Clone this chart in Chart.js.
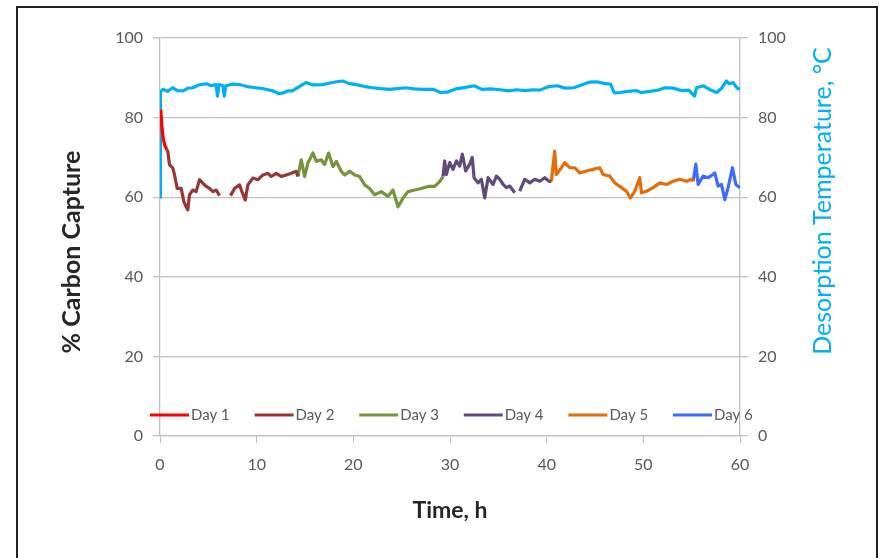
<!DOCTYPE html>
<html>
<head>
<meta charset="utf-8">
<script src="https://cdn.jsdelivr.net/npm/chart.js@4"></script>
<style>
  html, body { margin: 0; padding: 0; background: #fff; overflow: hidden; }
  #frame { position: absolute; left: 16px; top: 6px; width: 862px; height: 640px;
           border: 2px solid #222; box-sizing: border-box; }
  #chart { position: absolute; left: 0; top: 0; }
</style>
</head>
<body>
<div id="frame"></div>
<canvas id="chart" width="879" height="558"></canvas>
<script>
// [time h, % carbon capture], null = gap in the log
var day1 = [[0.08,82],[0.2,77.5],[0.35,74.5],[0.5,73],[0.7,72]];
var day2 = [[0.7,72],[0.81,71.5],[0.98,68.2],[1.33,67.3],[1.5,65.6],[1.78,62.2],[2.19,62.2],[2.47,58.9],[2.71,57.6],
  [2.88,56.8],[3.05,60.6],[3.4,61.8],[3.74,61.4],[4.09,64.4],[4.43,63.5],[4.78,62.7],[5.12,62.2],[5.47,61.4],
  [5.81,61.8],[6.16,60.4],[6.7,null],[7.3,60.4],[7.71,62.2],[8.23,63.1],[8.47,61.4],[8.82,59.3],[9.09,63.1],
  [9.61,64.8],[10.13,64.4],[10.65,65.6],[11.16,66.0],[11.51,65.2],[12.03,66.0],[12.54,65.2],[13.06,65.6],
  [13.58,66.0],[14.1,66.5],[14.27,65.2]];
var day3 = [[14.27,65.2],[14.61,69.4],[14.96,65.2],[15.3,68.6],[15.82,71.1],[16.17,69.0],[16.68,69.4],[17.03,68.2],
  [17.44,71.1],[17.89,67.7],[18.24,69.0],[18.75,66.5],[19.1,65.6],[19.62,66.5],[20.13,65.6],[20.65,65.2],
  [21.17,63.1],[21.68,62.2],[22.2,60.6],[22.89,61.4],[23.58,60.2],[24.1,61.8],[24.62,57.6],[25.13,59.7],
  [25.65,61.4],[26.34,61.8],[27.03,62.2],[27.72,62.7],[28.41,62.7],[28.93,63.9],[29.28,65.2]];
var day4 = [[29.28,65.2],[29.45,69.1],[29.62,65.7],[29.97,68.7],[30.31,67.0],[30.66,69.1],[31.0,67.8],[31.28,70.8],
  [31.62,66.6],[32.04,68.3],[32.3,70.0],[32.49,64.9],[32.9,63.6],[33.25,64.5],[33.59,59.8],[33.94,64.9],
  [34.46,63.2],[34.8,65.3],[35.15,64.5],[35.49,63.2],[35.83,62.4],[36.18,62.8],[36.7,61.1],[36.95,null],
  [37.21,61.5],[37.73,64.5],[38.25,63.6],[38.77,64.5],[39.29,64.0],[39.8,64.9],[40.25,64.0],[40.49,64.0]];
var day5 = [[40.49,64.0],[40.83,71.6],[41.0,65.7],[41.52,67.4],[41.87,68.7],[42.39,67.4],[42.91,67.4],[43.42,66.1],
  [44.11,66.6],[44.8,67.0],[45.49,67.4],[45.84,65.7],[46.53,65.3],[47.05,63.6],[47.74,62.4],[48.25,61.5],
  [48.67,59.8],[49.12,61.5],[49.63,64.9],[49.81,61.1],[50.32,61.5],[51.01,62.4],[51.7,63.6],[52.39,63.2],
  [53.08,64.0],[53.77,64.5],[54.46,64.0],[54.98,64.5],[55.15,64.0]];
var day6 = [[55.15,64.0],[55.43,68.3],[55.67,63.2],[56.18,65.3],[56.7,64.9],[57.22,65.7],[57.39,66.1],[57.74,62.8],
  [58.08,63.2],[58.43,59.4],[58.77,62.4],[59.22,67.4],[59.57,63.2],[60.0,62.4]];
// [time h, desorption temperature °C]
var temperature = [[0,60],[0.05,86.5],[0.3,87.1],[0.8,86.6],[1.3,87.5],[1.8,86.8],[2.4,86.7],[2.9,87.4],[3.4,87.5],
  [4.0,88.2],[4.8,88.5],[5.3,88.0],[5.8,88.3],[5.95,85.4],[6.1,88.3],[6.5,88.0],[6.65,85.4],[6.8,88.0],[7.5,88.4],
  [8.2,88.3],[9.0,87.8],[9.9,87.5],[10.8,87.2],[11.7,86.7],[12.3,86.0],[12.7,86.2],[13.2,86.7],[13.7,86.7],
  [14.4,87.8],[15.1,88.8],[15.8,88.2],[16.8,88.3],[17.6,88.7],[18.3,89.0],[18.9,89.2],[19.5,88.6],[20.3,88.3],
  [21.2,87.8],[22.0,87.5],[22.8,87.3],[23.7,87.1],[24.5,87.3],[25.4,87.5],[26.3,87.2],[27.2,87.1],[28.3,87.1],
  [29.0,86.3],[29.7,86.4],[30.6,87.2],[31.6,87.6],[32.5,88.0],[33.3,87.1],[34.2,87.2],[35.2,87.0],[36.1,86.7],
  [36.9,87.0],[37.8,86.8],[38.6,87.0],[39.3,86.9],[40.2,87.8],[41.1,88.0],[41.9,87.4],[42.8,87.5],[43.6,88.2],
  [44.4,88.9],[45.2,89.0],[45.9,88.6],[46.6,88.4],[47.0,86.2],[47.6,86.3],[48.4,86.6],[49.2,86.8],[49.8,86.3],
  [50.7,86.6],[51.5,86.9],[52.2,87.5],[53.1,87.4],[53.9,86.8],[54.7,86.9],[55.3,85.4],[55.5,87.5],[56.2,88.0],
  [56.9,87.0],[57.6,86.3],[58.1,87.4],[58.6,89.2],[58.9,88.5],[59.3,88.8],[59.7,87.4],[60,87.1]];

var dayLabels = ['Day 1', 'Day 2', 'Day 3', 'Day 4', 'Day 5', 'Day 6'];
var dayColors = ['#FF0000', '#953735', '#77933C', '#604A7B', '#E46C0A', '#3D6BFF'];
var days = [day1, day2, day3, day4, day5, day6];

function toPoints(rows) {
  return rows.map(function (r) { return { x: r[0], y: r[1] }; });
}

var lineW = 3.2;

var datasets = days.map(function (d, i) {
  return {
    label: dayLabels[i],
    data: toPoints(d),
    borderColor: dayColors[i],
    borderWidth: lineW,
    borderJoinStyle: 'round',
    pointRadius: 0,
    yAxisID: 'y',
    showInLegend: true
  };
});
datasets.push({
  label: 'Desorption Temperature',
  data: toPoints(temperature),
  borderColor: '#00B0F0',
  borderWidth: lineW,
  borderJoinStyle: 'round',
  pointRadius: 0,
  yAxisID: 'y2'
});

var gray = '#595959';
var gridGray = '#BFBFBF';

// legend sits inside the plot area + both y titles read bottom-to-top
var excelBits = {
  id: 'excelBits',
  afterDatasetsDraw: function (chart) {
    var ctx = chart.ctx, area = chart.chartArea;
    ctx.save();
    ctx.font = '15px Lato';
    ctx.textBaseline = 'middle';
    ctx.textAlign = 'left';
    var y = area.bottom - 21;
    var x = area.left - 10;
    chart.data.datasets.forEach(function (ds) {
      if (!ds.showInLegend) return;
      ctx.strokeStyle = ds.borderColor;
      ctx.lineWidth = 2.8;
      ctx.beginPath();
      ctx.moveTo(x, y);
      ctx.lineTo(x + 39, y);
      ctx.stroke();
      ctx.fillStyle = gray;
      ctx.fillText(ds.label, x + 41, y);
      x += 104.6;
    });
    ctx.textAlign = 'center';
    ctx.save();
    ctx.translate(72, 252);
    ctx.rotate(-Math.PI / 2);
    ctx.font = 'bold 25px Lato';
    ctx.fillStyle = '#262626';
    ctx.fillText('% Carbon Capture', 0, 0);
    ctx.restore();
    ctx.save();
    ctx.translate(823, 201);
    ctx.rotate(-Math.PI / 2);
    ctx.font = '25px Lato';
    ctx.fillStyle = '#00B0F0';
    ctx.fillText('Desorption Temperature, °C', 0, 0);
    ctx.restore();
    ctx.restore();
  }
};

new Chart(document.getElementById('chart').getContext('2d'), {
  type: 'line',
  data: { datasets: datasets },
  plugins: [excelBits],
  options: {
    responsive: false,
    animation: false,
    layout: { padding: { top: 38, left: 0, right: 0, bottom: 0 } },
    plugins: { legend: { display: false }, tooltip: { enabled: false } },
    scales: {
      x: {
        type: 'linear', position: 'bottom', min: 0, max: 60,
        ticks: { stepSize: 10, color: gray, font: { family: 'Lato', size: 16 }, padding: 12 },
        grid: { drawOnChartArea: false, tickLength: 7, color: gridGray },
        border: { color: gridGray, width: 1.3 },
        title: { display: true, text: 'Time, h', color: '#262626',
                 font: { family: 'Lato', size: 23, weight: 'bold' }, padding: { top: 0, bottom: 34 } },
        afterFit: function (s) { s.height = 122; }
      },
      y: {
        position: 'left', min: 0, max: 100,
        ticks: { stepSize: 20, color: gray, font: { family: 'Lato', size: 16 }, padding: 10 },
        grid: { color: gridGray, lineWidth: 1.3, tickLength: 7 },
        border: { color: gridGray, width: 1.3 },
        afterFit: function (s) { s.width = 160; }
      },
      y2: {
        position: 'right', min: 0, max: 100,
        ticks: { stepSize: 20, color: gray, font: { family: 'Lato', size: 16 }, padding: 10 },
        grid: { drawOnChartArea: false, color: gridGray, lineWidth: 1.3, tickLength: 8 },
        border: { color: gridGray, width: 1.3 },
        afterFit: function (s) { s.width = 139; }
      }
    }
  }
});
</script>
</body>
</html>
